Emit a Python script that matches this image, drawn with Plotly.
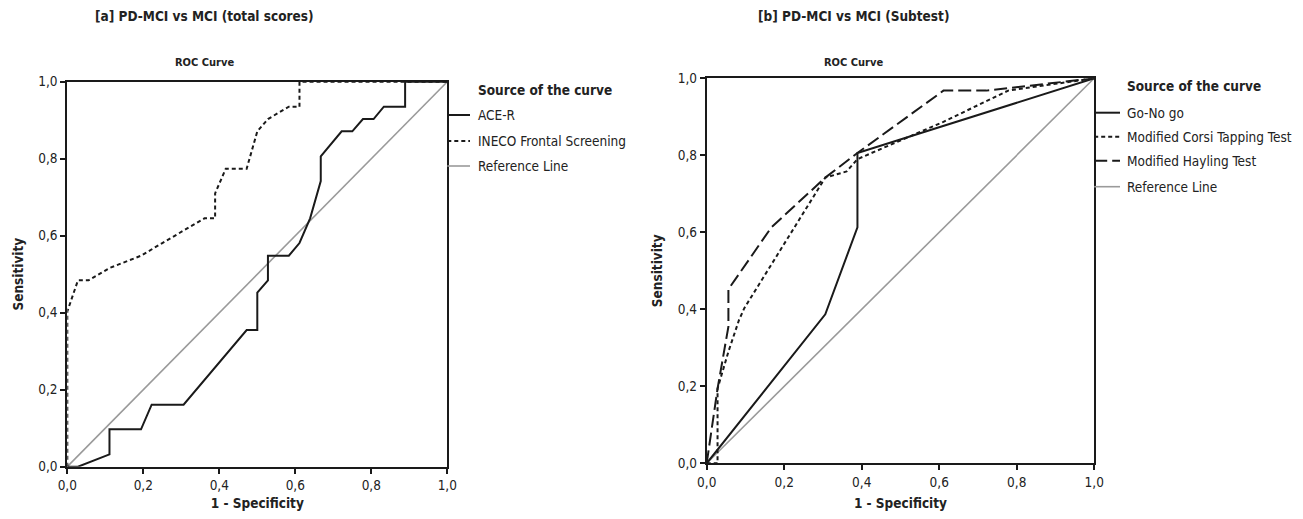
import plotly.graph_objects as go

# page has an 8px body margin: the figure is sized to fit inside the window
PAGE_W, PAGE_H, OFF = 1303, 519, 8
W, H = PAGE_W - 2 * OFF, PAGE_H - 2 * OFF

# ---------------- data ----------------
# Panel a: PD-MCI vs MCI (total scores)
ace_x = [0, 0.028, 0.111, 0.111, 0.194, 0.222, 0.306, 0.472, 0.5, 0.5, 0.528, 0.528, 0.583,
         0.611, 0.639, 0.667, 0.667, 0.722, 0.75, 0.778, 0.806, 0.833, 0.889, 0.889, 1.0]
ace_y = [0, 0, 0.032, 0.097, 0.097, 0.161, 0.161, 0.355, 0.355, 0.452, 0.484, 0.548, 0.548,
         0.581, 0.645, 0.742, 0.806, 0.871, 0.871, 0.903, 0.903, 0.935, 0.935, 1.0, 1.0]
ineco_x = [0, 0, 0.028, 0.056, 0.111, 0.194, 0.25, 0.306, 0.361, 0.389, 0.389, 0.417, 0.472,
           0.5, 0.528, 0.583, 0.611, 0.611, 1.0]
ineco_y = [0, 0.403, 0.484, 0.484, 0.516, 0.548, 0.581, 0.613, 0.645, 0.645, 0.71, 0.774, 0.774,
           0.871, 0.903, 0.935, 0.935, 1.0, 1.0]

# Panel b: PD-MCI vs MCI (Subtest)
gonogo_x = [0, 0.306, 0.389, 0.389, 1.0]
gonogo_y = [0, 0.387, 0.613, 0.806, 1.0]
corsi_x = [0, 0.028, 0.028, 0.056, 0.083, 0.097, 0.306, 0.361, 0.389, 0.611, 0.778, 1.0]
corsi_y = [0, 0, 0.194, 0.29, 0.371, 0.403, 0.742, 0.758, 0.79, 0.887, 0.968, 1.0]
hayling_x = [0, 0.028, 0.056, 0.056, 0.167, 0.306, 0.389, 0.611, 0.722, 1.0]
hayling_y = [0, 0.194, 0.355, 0.452, 0.613, 0.742, 0.806, 0.968, 0.968, 1.0]

ref_x = [0, 1]
ref_y = [0, 1]

tick_vals = [0, 0.2, 0.4, 0.6, 0.8, 1.0]
tick_text = ["0,0", "0,2", "0,4", "0,6", "0,8", "1,0"]

legend_a = ["ACE-R", "INECO Frontal Screening", "Reference Line"]
legend_b = ["Go-No go", "Modified Corsi Tapping Test", "Modified Hayling Test", "Reference Line"]

# ---------------- styles ----------------
FONT = "Liberation Sans Narrow, DejaVu Sans Condensed, Arial Narrow, sans-serif"
BLACK = "#1a1a1a"
GREY = "#9a9a9a"
SOLID = dict(color=BLACK, width=2, dash="solid")
SHORT = dict(color=BLACK, width=2, dash="4px,3px")
LONG = dict(color=BLACK, width=2, dash="13px,5px")
REF = dict(color=GREY, width=1.6, dash="solid")


def px(x):
    return (x - OFF) / W


def py(y):
    return (H - (y - OFF)) / H


fig = go.Figure()

# panel a traces
fig.add_trace(go.Scatter(x=ref_x, y=ref_y, mode="lines", line=REF, xaxis="x", yaxis="y",
                         name=legend_a[2], showlegend=False, hoverinfo="skip"))
fig.add_trace(go.Scatter(x=ineco_x, y=ineco_y, mode="lines", line=SHORT, xaxis="x", yaxis="y",
                         name=legend_a[1], showlegend=False))
fig.add_trace(go.Scatter(x=ace_x, y=ace_y, mode="lines", line=SOLID, xaxis="x", yaxis="y",
                         name=legend_a[0], showlegend=False))

# panel b traces
fig.add_trace(go.Scatter(x=ref_x, y=ref_y, mode="lines", line=REF, xaxis="x2", yaxis="y2",
                         name=legend_b[3], showlegend=False, hoverinfo="skip"))
fig.add_trace(go.Scatter(x=corsi_x, y=corsi_y, mode="lines", line=SHORT, xaxis="x2", yaxis="y2",
                         name=legend_b[1], showlegend=False))
fig.add_trace(go.Scatter(x=hayling_x, y=hayling_y, mode="lines", line=LONG, xaxis="x2", yaxis="y2",
                         name=legend_b[2], showlegend=False))
fig.add_trace(go.Scatter(x=gonogo_x, y=gonogo_y, mode="lines", line=SOLID, xaxis="x2", yaxis="y2",
                         name=legend_b[0], showlegend=False))

axis_common = dict(range=[0, 1], tickvals=tick_vals, ticktext=tick_text, showgrid=False,
                   zeroline=False, showline=True, linecolor=BLACK, linewidth=2, mirror=True,
                   ticks="outside", ticklen=5, tickwidth=1.5, tickcolor=BLACK, automargin=False,
                   tickfont=dict(family=FONT, size=13.5, color="#222"), fixedrange=True)

xt = dict(text="<b>1 - Specificity</b>", font=dict(family=FONT, size=13.5, color="#222"), standoff=10)
yt = dict(text="<b>Sensitivity</b>", font=dict(family=FONT, size=13.5, color="#222"), standoff=12)

fig.update_layout(
    width=W, height=H, margin=dict(l=0, r=0, t=0, b=0, autoexpand=False),
    paper_bgcolor="white", plot_bgcolor="white", showlegend=False,
    xaxis=dict(domain=[px(67.3), px(447.3)], anchor="y", title=xt, **axis_common),
    yaxis=dict(domain=[py(466.7), py(81.7)], anchor="x", title=yt, **axis_common),
    xaxis2=dict(domain=[px(706.7), px(1094.2)], anchor="y2", title=xt, **axis_common),
    yaxis2=dict(domain=[py(463.3), py(78.3)], anchor="x2", title=yt, **axis_common),
)

ann = []
shapes = []
# titles
ann.append(dict(x=px(205), y=py(16), text="<b>[a] PD-MCI vs MCI (total scores)</b>"))
ann.append(dict(x=px(205), y=py(63), text="<b>ROC Curve</b>", size=11))
ann.append(dict(x=px(853), y=py(16), text="<b>[b] PD-MCI vs MCI (Subtest)</b>"))
ann.append(dict(x=px(853), y=py(62), text="<b>ROC Curve</b>", size=11))

annotations = []
for a in ann:
    annotations.append(dict(xref="paper", yref="paper", x=a["x"], y=a["y"], text=a["text"],
                            showarrow=False, xanchor="center", yanchor="middle",
                            font=dict(family=FONT, size=a.get("size", 13.5), color="#222")))


def legend(x_line0, x_line1, x_text, y_head, ys, labels, styles):
    annotations.append(dict(xref="paper", yref="paper", x=px(x_text), y=py(y_head),
                            text="<b>Source of the curve</b>", showarrow=False,
                            xanchor="left", yanchor="middle",
                            font=dict(family=FONT, size=13.5, color="#222")))
    for yy, lab, st in zip(ys, labels, styles):
        shapes.append(dict(type="line", xref="paper", yref="paper",
                           x0=px(x_line0), x1=px(x_line1), y0=py(yy), y1=py(yy),
                           line=dict(color=st["color"], width=st["width"], dash=st["dash"])))
        annotations.append(dict(xref="paper", yref="paper", x=px(x_text), y=py(yy), text=lab,
                                showarrow=False, xanchor="left", yanchor="middle",
                                font=dict(family=FONT, size=13.5, color="#222")))


legend(447.3, 470, 476, 90, [115, 141, 166], legend_a, [SOLID, SHORT, REF])
legend(1094.2, 1120, 1125, 86, [112.7, 136.7, 160.7, 186.7], legend_b, [SOLID, SHORT, LONG, REF])

fig.update_layout(annotations=annotations, shapes=shapes)

fig.write_html("out.html")
